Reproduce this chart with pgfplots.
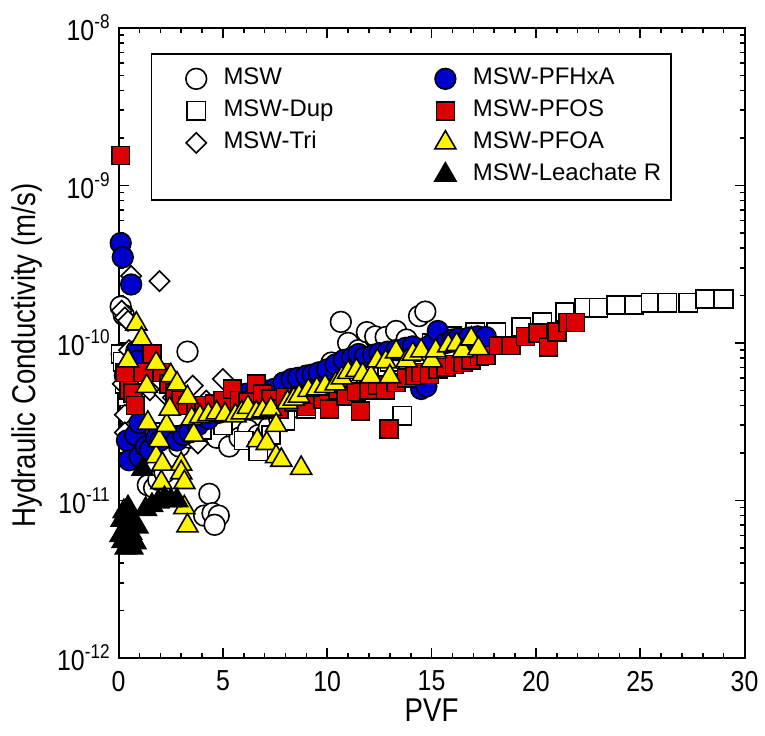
\documentclass[border=0pt]{standalone}
\usepackage{fontspec}
\setmainfont{Liberation Sans}
\newfontfamily\narrowfont{Liberation Sans}[FakeStretch=0.86]
\newfontfamily\labelfont{Liberation Sans}[FakeStretch=0.84]
\usepackage{pgfplots}
\pgfplotsset{compat=1.18}
\definecolor{mblue}{RGB}{0,0,205}
\definecolor{mred}{RGB}{220,0,0}
\definecolor{myellow}{RGB}{255,245,0}
\newcommand\tp[1]{10\raisebox{0.42em}{\fontsize{10}{10}\selectfont #1}}
\pgfplotsset{
  mswS/.style={only marks, mark=*, mark size=5.2pt, mark options={fill=white, draw=black, line width=0.8pt}},
  dupS/.style={only marks, mark=square*, mark size=4.6pt, mark options={fill=white, draw=black, line width=0.8pt}},
  triS/.style={only marks, mark=square*, mark size=3.6pt, mark options={rotate=45, fill=white, draw=black, line width=0.8pt}},
  hxaS/.style={only marks, mark=*, mark size=5.2pt, mark options={fill=mblue, draw=black, line width=0.8pt}},
  fosS/.style={only marks, mark=square*, mark size=4.5pt, mark options={fill=mred, draw=black, line width=0.8pt}},
  foaS/.style={only marks, mark=triangle*, mark size=6.1pt, mark options={fill=myellow, draw=black, line width=0.8pt}},
  leaS/.style={only marks, mark=triangle*, mark size=6.1pt, mark options={fill=black, draw=black, line width=0.8pt}},
}
\begin{document}
\begin{tikzpicture}
\begin{axis}[
  scale only axis, width=314pt, height=316pt,
  xmin=0, xmax=30, ymode=log, ymin=1e-12, ymax=1e-8,
  xtick={0,5,10,15,20,25,30}, xticklabels={0,5,10,15,20,25,30},
  minor x tick num=4,
  ytick={1e-12,1e-11,1e-10,1e-9,1e-8},
  yticklabels={\tp{-12},\tp{-11},\tp{-10},\tp{-9},\tp{-8}},
  minor ytick={2e-12,3e-12,4e-12,5e-12,6e-12,7e-12,8e-12,9e-12,
    2e-11,3e-11,4e-11,5e-11,6e-11,7e-11,8e-11,9e-11,
    2e-10,3e-10,4e-10,5e-10,6e-10,7e-10,8e-10,9e-10,
    2e-9,3e-9,4e-9,5e-9,6e-9,7e-9,8e-9,9e-9},
  tick align=inside,
  major tick length=5pt, minor tick length=2.5pt,
  axis line style={line width=1pt},
  every tick/.style={black, line width=0.8pt},
  tick label style={font=\narrowfont\fontsize{14.5}{15}\selectfont},
  xticklabel style={yshift=-3pt},
  yticklabel style={xshift=-1pt},
  xlabel={PVF}, ylabel={Hydraulic Conductivity (m/s)},
  every axis x label/.style={at={(axis description cs:0.5,-0.0823)}, anchor=center,
    font=\labelfont\fontsize{16.5}{18}\selectfont},
  every axis y label/.style={at={(axis description cs:-0.1465,0.48)}, anchor=center, rotate=90,
    font=\labelfont\fontsize{16.5}{18}\selectfont},
  legend columns=2,
  legend cell align=left,
  legend style={at={(0.051,0.960)}, anchor=north west, draw=black, line width=0.8pt,
    inner xsep=14pt, inner ysep=6.5pt, row sep=4pt,
    nodes={inner sep=0pt, text height=9pt, text depth=3pt, font=\fontsize{12}{14}\selectfont},
    /tikz/every odd column/.append style={column sep=8.5pt}},
]
% MSW
\addplot[mswS, forget plot] coordinates {
(0.1,1.7e-10) (0.25,1.5e-10) (0.15,8.5e-11) (0.3,6.2e-11) (0.5,4.0e-11) (0.7,3.2e-11)
(1.0,2.6e-11) (1.2,2.0e-11) (1.4,1.25e-11) (1.7,1.2e-11) (1.9,1.35e-11) (2.2,1.5e-11)
(2.5,1.9e-11) (2.9,2.2e-11) (3.3,8.8e-11) (3.4,2.5e-11) (3.8,2.7e-11) (4.0,2.8e-11)
(4.35,1.1e-11) (4.1,8.0e-12) (4.5,8.3e-12) (4.8,8.0e-12) (4.6,7.0e-12) (4.7,2.5e-11)
(5.3,2.2e-11) (5.8,2.5e-11) (6.2,2.8e-11) (6.7,2.6e-11) (7.2,2.9e-11) (7.7,3.3e-11)
(8.2,3.8e-11) (8.7,4.5e-11) (9.2,5.3e-11) (9.7,6.2e-11) (10.2,7.5e-11) (10.65,1.36e-10)
(11.0,1.0e-10) (11.5,9.0e-11) (11.9,1.17e-10) (12.3,1.1e-10) (12.8,1.09e-10) (13.3,1.19e-10)
(13.8,1.05e-10) (14.4,1.48e-10) (14.7,1.58e-10)
};
% MSW-Dup
\addplot[dupS, forget plot] coordinates {
(0.1,8.5e-11) (0.2,7.6e-11) (0.3,5.5e-11) (0.4,4.2e-11) (0.5,3.5e-11) (0.8,3.0e-11)
(1.2,2.8e-11) (2.0,2.7e-11) (3.0,2.6e-11) (4.0,2.8e-11) (5.0,3.0e-11) (6.0,2.4e-11)
(6.7,2.05e-11) (7.3,2.6e-11) (8.0,3.2e-11) (9.0,3.8e-11) (10.0,4.6e-11) (11.0,5.6e-11)
(12.0,6.6e-11) (13.0,7.6e-11) (13.6,3.45e-11) (14.0,8.8e-11) (15.0,1.0e-10) (16.0,1.1e-10)
(17.1,1.17e-10) (18.1,1.17e-10) (19.3,1.26e-10) (20.3,1.35e-10) (21.4,1.57e-10) (22.3,1.67e-10)
(23.0,1.67e-10) (23.85,1.74e-10) (24.7,1.74e-10) (25.5,1.8e-10) (26.3,1.8e-10) (27.3,1.8e-10)
(28.1,1.9e-10) (29.0,1.9e-10)
};
% MSW-Tri
\addplot[triS, forget plot] coordinates {
(0.15,1.6e-10) (0.3,1.45e-10) (0.45,1.38e-10) (0.6,2.66e-10) (0.5,9e-11) (0.8,7e-11)
(1.0,6e-11) (0.2,5.5e-11) (0.3,3.5e-11) (0.3,2.7e-11) (0.5,2.3e-11) (1.96,2.47e-10)
(1.5,5e-11) (2.2,4.75e-11) (2.6,4.5e-11) (3.0,4.2e-11) (3.55,5.35e-11) (3.8,2.3e-11)
(4.2,4.3e-11) (5.0,5.9e-11) (5.6,4.8e-11) (6.2,4.5e-11) (7.0,4.2e-11)
};
% MSW-PFHxA
\addplot[hxaS, forget plot] coordinates {
(0.1,4.3e-10) (0.2,3.5e-10) (0.6,2.35e-10) (0.85,8.9e-11) (0.9,7.7e-11) (0.4,2.4e-11)
(0.5,1.8e-11) (0.8,2.6e-11) (1.0,3.1e-11) (1.0,1.9e-11) (1.3,2.2e-11) (1.5,2.1e-11)
(1.8,2.5e-11) (2.0,2.4e-11) (2.4,2.6e-11) (2.8,2.4e-11) (3.1,2.6e-11) (3.4,2.7e-11)
(3.8,3.0e-11) (4.3,3.3e-11) (4.8,3.6e-11) (5.3,4.0e-11) (5.7,4.3e-11) (6.1,4.75e-11)
(6.6,4.9e-11) (7.0,5.0e-11) (7.45,5.1e-11) (7.9,5.6e-11) (8.3,5.9e-11) (8.6,6.0e-11)
(9.0,6.2e-11) (9.3,6.3e-11) (9.6,6.5e-11) (10.0,6.8e-11) (10.4,7.3e-11) (10.8,7.8e-11)
(11.2,8.1e-11) (11.5,8.5e-11) (11.8,8.1e-11) (12.2,8.4e-11) (12.5,8.6e-11) (12.9,8.8e-11)
(13.3,9.0e-11) (13.75,9.3e-11) (14.1,9.5e-11) (14.5,5.1e-11) (14.75,5.3e-11) (15.0,9.8e-11)
(15.3,1.19e-10) (15.7,1.0e-10) (16.0,1.05e-10) (16.3,1.07e-10) (16.8,1.08e-10) (17.2,1.1e-10)
(17.6,1.09e-10)
};
% MSW-PFOS
\addplot[fosS, forget plot] coordinates {
(0.1,1.55e-9) (0.3,6.5e-11) (0.5,5e-11) (0.7,4.8e-11) (0.8,4e-11) (1.2,6.5e-11)
(1.6,8.5e-11) (2.1,6.5e-11) (2.4,5.5e-11) (2.7,4.8e-11) (3.0,4.3e-11) (3.3,4.0e-11)
(3.7,3.9e-11) (4.1,4.0e-11) (4.6,4.1e-11) (5.0,4.3e-11) (5.45,5.1e-11) (5.8,4.3e-11)
(6.2,4.2e-11) (6.6,5.5e-11) (6.9,4.75e-11) (7.3,4.4e-11) (7.7,3.8e-11) (8.0,4.5e-11)
(8.4,4.2e-11) (8.7,4.6e-11) (9.0,3.95e-11) (9.4,4.7e-11) (9.8,4.4e-11) (10.1,3.8e-11)
(10.5,5.0e-11) (10.9,4.6e-11) (11.4,4.9e-11) (11.6,3.7e-11) (12.0,5.0e-11) (12.4,5.4e-11)
(12.8,5.0e-11) (12.95,2.85e-11) (13.3,5.6e-11) (13.8,6.0e-11) (14.2,6.2e-11) (14.5,6.5e-11)
(14.9,6.3e-11) (15.3,6.8e-11) (15.7,7.0e-11) (16.1,7.3e-11) (16.5,7.5e-11) (16.9,7.8e-11)
(17.3,8.2e-11) (17.6,8.3e-11) (18.2,9.6e-11) (18.8,9.6e-11) (19.5,1.1e-10) (20.1,1.16e-10)
(20.6,9.4e-11) (21.0,1.17e-10) (21.55,1.35e-10) (21.9,1.35e-10)
};
% MSW-PFOA
\addplot[foaS, forget plot] coordinates {
(0.45,7.7e-11) (0.85,1.32e-10) (1.1,1.06e-10) (1.35,5.3e-11) (1.4,3.1e-11) (1.8,7.4e-11)
(1.8,1.9e-11) (1.95,2.4e-11) (2.05,1.3e-11) (2.1,1.7e-11) (2.3,3.0e-11) (2.45,3.8e-11)
(2.5,6.2e-11) (2.8,5.5e-11) (3.0,1.7e-11) (3.0,1.5e-11) (3.15,1.3e-11) (3.15,9.0e-12)
(3.3,6.9e-12) (3.3,4.5e-11) (3.5,3.3e-11) (3.6,2.6e-11) (3.9,3.4e-11) (4.3,3.5e-11)
(4.7,3.6e-11) (5.1,3.5e-11) (5.6,3.45e-11) (5.9,3.6e-11) (6.2,3.9e-11) (6.6,3.6e-11)
(6.65,2.4e-11) (6.9,3.7e-11) (7.1,2.3e-11) (7.3,3.8e-11) (7.55,3.0e-11) (7.55,1.9e-11)
(7.8,1.8e-11) (8.1,4.2e-11) (8.4,4.4e-11) (8.65,4.6e-11) (8.75,1.6e-11) (9.1,5.0e-11)
(9.5,5.1e-11) (9.9,5.3e-11) (10.4,5.5e-11) (10.7,6.0e-11) (11.0,6.5e-11) (11.4,6.7e-11)
(11.7,6.3e-11) (12.1,6.1e-11) (12.4,7.7e-11) (12.8,7.6e-11) (13.0,6.1e-11) (13.3,8.8e-11)
(13.8,7.7e-11) (14.1,8.5e-11) (14.5,8.9e-11) (15.0,7.7e-11) (15.2,8.9e-11) (15.8,9.6e-11)
(16.2,9.8e-11) (16.5,8.9e-11) (16.9,1.06e-10) (17.25,9.2e-11)
};
% MSW-Leachate R
\addplot[leaS, forget plot] coordinates {
(0.1,6.0e-12) (0.15,7.5e-12) (0.2,5.5e-12) (0.25,8.5e-12) (0.3,6.5e-12) (0.35,5.0e-12)
(0.4,7.0e-12) (0.45,9.0e-12) (0.5,5.5e-12) (0.55,8.0e-12) (0.6,6.2e-12) (0.65,5.0e-12)
(0.7,7.3e-12) (0.8,5.4e-12) (0.9,6.8e-12) (1.15,1.58e-11) (1.3,8.8e-12) (1.6,9.3e-12)
(1.9,9.8e-12) (2.2,1.03e-11) (2.5,1.0e-11) (2.8,1.0e-11)
};
% legend (row-wise order)
\addlegendimage{mswS}\addlegendentry{\makebox[106pt][l]{MSW}}
\addlegendimage{hxaS}\addlegendentry{\makebox[85.5pt][l]{MSW-PFHxA}}
\addlegendimage{dupS}\addlegendentry{\makebox[106pt][l]{MSW-Dup}}
\addlegendimage{fosS}\addlegendentry{\makebox[85.5pt][l]{MSW-PFOS}}
\addlegendimage{triS}\addlegendentry{\makebox[106pt][l]{MSW-Tri}}
\addlegendimage{foaS}\addlegendentry{\makebox[85.5pt][l]{MSW-PFOA}}
\addlegendimage{empty legend}\addlegendentry{}
\addlegendimage{leaS}\addlegendentry{\makebox[85.5pt][l]{MSW-Leachate R}}
\end{axis}
\path (current axis.south west) ++(-59.5pt,-39pt);
\path (current axis.north east) ++(9pt,14pt);
\end{tikzpicture}
\end{document}
